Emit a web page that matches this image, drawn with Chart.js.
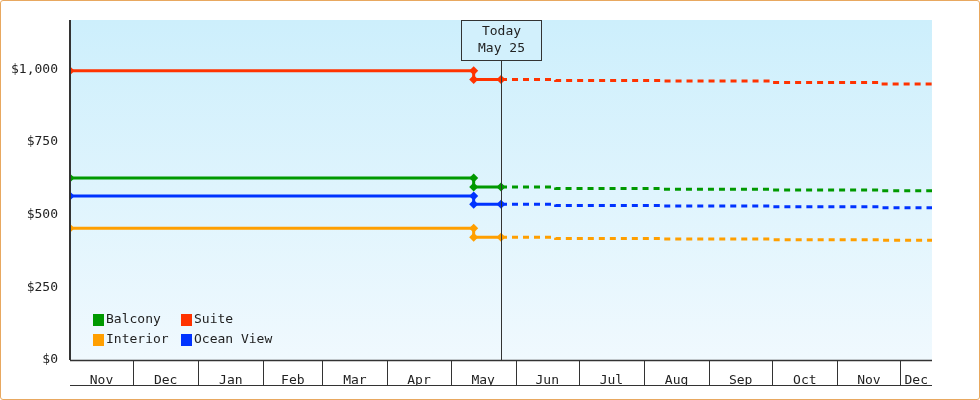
<!DOCTYPE html>
<html><head><meta charset="utf-8">
<script src="https://cdn.jsdelivr.net/npm/chart.js@4/dist/chart.umd.min.js"></script>
<style>
html,body{margin:0;padding:0;background:#fff}
#wrap{position:absolute;left:0;top:0;width:978px;height:398px;border:1px solid #e8a860;border-radius:3px}
canvas{position:absolute;left:-1px;top:-1px}
</style></head><body>
<div id="wrap"><canvas id="c" width="980" height="400"></canvas></div>
<script>
// days since Nov 1
const monthNames=['Nov','Dec','Jan','Feb','Mar','Apr','May','Jun','Jul','Aug','Sep','Oct','Nov','Dec'];
const monthStarts=[0,30,61,92,120,151,181,212,242,273,304,334,365,395];
const endDay=410;
const todayDay=205, changeDay=192;
const pastDays=[0,changeDay,changeDay,todayDay];
const futureDays=[todayDay,231,231,282,282,333,333,385,385,endDay];
const seriesNames=['Balcony','Suite','Interior','Ocean View'];
const colors=['#009900','#ff3300','#ff9f00','#0033ff'];
const pastBalcony=[626,626,595,595];
const pastSuite=[995,995,965,965];
const pastInterior=[453,453,422,422];
const pastOcean=[564,564,536,536];
const futBalcony=[595,595,590,590,588,588,585,585,582,582];
const futSuite=[965,965,962,962,960,960,955,955,950,950];
const futInterior=[422,422,418,418,416,416,414,414,412,412];
const futOcean=[536,536,532,532,530,530,527,527,524,524];
const yTicks=[0,250,500,750,1000];

const past=[pastBalcony,pastSuite,pastInterior,pastOcean];
const fut=[futBalcony,futSuite,futInterior,futOcean];
const FONT='"DejaVu Sans Mono", monospace';
const datasets=[];
seriesNames.forEach((n,i)=>{
  datasets.push({label:n,data:pastDays.map((d,j)=>({x:d,y:past[i][j]})),borderColor:colors[i],backgroundColor:colors[i],
    borderWidth:3,pointStyle:'rectRot',pointRadius:4.5,pointHoverRadius:4.5,pointBorderWidth:0,tension:0});
  datasets.push({label:'_'+n,data:futureDays.map((d,j)=>({x:d,y:fut[i][j]})),borderColor:colors[i],
    borderWidth:3,borderDash:[6,5],pointRadius:0,tension:0});
});
const decor={id:'decor',
  beforeDraw(ch){const {ctx,chartArea:a}=ch;const g=ctx.createLinearGradient(0,a.top,0,a.bottom);
    g.addColorStop(0,'#cdeffc');g.addColorStop(1,'#f0f9fe');ctx.fillStyle=g;ctx.fillRect(a.left,a.top,a.right-a.left,a.bottom-a.top);},
  afterDraw(ch){const {ctx,chartArea:a,scales:{x}}=ch;ctx.save();
    ctx.strokeStyle='#333';ctx.lineWidth=1;
    // month boxes
    ctx.beginPath();
    monthStarts.slice(1).forEach(d=>{const px=Math.round(x.getPixelForValue(d))+0.5;ctx.moveTo(px,a.bottom);ctx.lineTo(px,a.bottom+25);});
    ctx.moveTo(a.left,a.bottom+25.5);ctx.lineTo(a.right,a.bottom+25.5);ctx.stroke();
    ctx.lineWidth=1.5;ctx.beginPath();ctx.moveTo(a.left,a.bottom+0.5);ctx.lineTo(a.right,a.bottom+0.5);ctx.stroke();
    ctx.lineWidth=2;ctx.beginPath();ctx.moveTo(a.left,a.top);ctx.lineTo(a.left,a.bottom);ctx.stroke();
    // today line
    const tx=Math.round(x.getPixelForValue(todayDay))+0.5;
    ctx.lineWidth=1;ctx.beginPath();ctx.moveTo(tx,a.top+40);ctx.lineTo(tx,a.bottom);ctx.stroke();
    ctx.fillStyle='#d2f0fc';ctx.fillRect(tx-40,a.top,80,40);ctx.strokeRect(tx-40,a.top+0.5,80,40);
    ctx.fillStyle='#222';ctx.font='13px '+FONT;ctx.textAlign='center';ctx.textBaseline='middle';
    ctx.fillText('Today',tx,a.top+12);ctx.fillText('May 25',tx,a.top+29);
    // legend
    ctx.textAlign='left';
    const pos=[[93,320],[181,320],[93,340],[181,340]];
    seriesNames.forEach((n,i)=>{const [lx,ly]=pos[i];ctx.fillStyle=colors[i];ctx.fillRect(lx,ly-6,11,12);
      ctx.fillStyle='#222';ctx.fillText(n,lx+13,ly);});
    ctx.restore();}
};
new Chart(document.getElementById('c'),{type:'line',data:{datasets},
  plugins:[decor],
  options:{responsive:false,animation:false,events:[],
    layout:{padding:{top:20,right:48,bottom:15,left:0}},
    plugins:{legend:{display:false},tooltip:{enabled:false}},
    scales:{
      x:{type:'linear',min:0,max:endDay,grid:{display:false},border:{display:false},
        afterBuildTicks(s){s.ticks=monthStarts.map((d,i)=>({value:(d+(monthStarts[i+1]??endDay))/2}));},
        afterFit(s){s.height=25;},
        ticks:{autoSkip:false,maxRotation:0,padding:5,color:'#222',font:{family:FONT,size:13},
          callback(v,i){return monthNames[i];}}},
      y:{min:0,max:1170,grid:{display:false,drawTicks:true},border:{display:false},
        afterBuildTicks(s){s.ticks=yTicks.map(v=>({value:v}));},
        afterFit(s){s.width=70;},
        ticks:{color:'#222',font:{family:FONT,size:13},padding:4,callback:v=>'$'+v.toLocaleString('en-US')}}
    }}});
</script></body></html>
